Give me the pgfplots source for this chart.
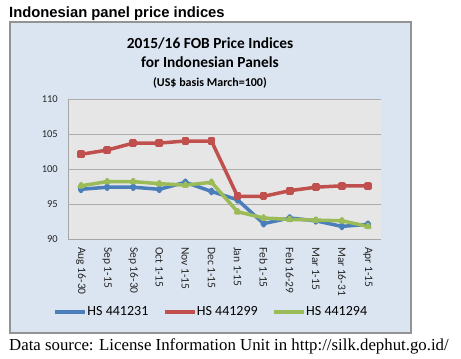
\documentclass[border=0pt]{standalone}
\usepackage{pgfplots}
\pgfplotsset{compat=1.18}
\usepackage{fontspec}
\setmainfont{Carlito}
\newfontfamily\headfont{Liberation Sans}
\newfontfamily\capfont{Liberation Serif}
\definecolor{boxbg}{HTML}{DBE5F1}
\definecolor{plotbg}{HTML}{E6E6E6}
\definecolor{sblue}{HTML}{4A7EBB}
\definecolor{sred}{HTML}{C0504D}
\definecolor{sgreen}{HTML}{9BBB59}
\begin{document}
\begin{tikzpicture}[x=1bp,y=1bp]
\path (0,0) rectangle (461,358);
\node[anchor=base west, inner sep=0, font=\headfont\bfseries\fontsize{14.8bp}{16bp}\selectfont] at (9,340.7) {Indonesian panel price indices};
\draw[fill=boxbg, draw=gray!85, line width=1.5bp] (9.75,25) rectangle (411,336);
\node[anchor=base, inner sep=0, font=\bfseries\fontsize{15.4bp}{17bp}\selectfont] at (210,309.3) {2015/16 FOB Price Indices};
\node[anchor=base, inner sep=0, font=\bfseries\fontsize{15.4bp}{17bp}\selectfont] at (210,290.3) {for Indonesian Panels};
\node[anchor=base, inner sep=0, font=\bfseries\fontsize{12bp}{14bp}\selectfont] at (210,272) {(US\$ basis March=100)};
\begin{axis}[
  at={(68bp,119bp)}, anchor=south west,
  scale only axis, width=313bp, height=140bp,
  xmin=-0.5, xmax=11.5, ymin=90, ymax=110,
  ytick={90,95,100,105,110},
  xtick={0,...,11},
  xticklabels={Aug 16-30,Sep 1-15,Sep 16-30,Oct 1-15,Nov 1-15,Dec 1-15,Jan 1-15,Feb 1-15,Feb 16-29,Mar 1-15,Mar 16-31,Apr 1-15},
  axis x line*=bottom, axis y line*=left,
  axis line style={draw=gray!70, line width=0.8bp},
  major tick length=0pt,
  ymajorgrids, grid style={draw=gray!65, line width=0.8bp},
  axis background/.style={fill=plotbg},
  /pgf/number format/assume math mode=true,
  tick label style={text=black!85, font=\fontsize{10.5bp}{12bp}\selectfont},
  xticklabel style={rotate=-90, anchor=west, inner sep=0pt, font=\fontsize{11.5bp}{13bp}\selectfont},
  yticklabel style={anchor=east, inner sep=0pt},
  xticklabel shift=8bp,
  yticklabel shift=10bp,
  legend columns=3,
  legend style={at={(0.457,-0.52)}, anchor=center, draw=none, fill=none,
    font=\fontsize{14bp}{16bp}\selectfont,
    /tikz/every odd column/.append style={column sep=-2bp},
    /tikz/every even column/.append style={column sep=12bp}},
  legend image code/.code={\draw[#1, mark=none, line width=4.5bp] (0bp,0bp) -- (30bp,0bp);},
  every axis plot/.append style={line width=3.5bp, mark size=2.1bp, line join=round},
]
\addplot[color=sblue, mark=diamond*] coordinates {(0,97.1) (1,97.4) (2,97.4) (3,97.1) (4,98.1) (5,96.8) (6,95.6) (7,92.2) (8,93.0) (9,92.6) (10,91.8) (11,92.1)};
\addlegendentry{HS 441231}
\addplot[color=sred, mark=square*] coordinates {(0,102.1) (1,102.7) (2,103.7) (3,103.7) (4,104.0) (5,104.0) (6,96.1) (7,96.1) (8,96.9) (9,97.4) (10,97.6) (11,97.6)};
\addlegendentry{HS 441299}
\addplot[color=sgreen, mark=triangle*] coordinates {(0,97.6) (1,98.2) (2,98.2) (3,97.9) (4,97.7) (5,98.1) (6,93.9) (7,93.0) (8,92.8) (9,92.7) (10,92.6) (11,91.8)};
\addlegendentry{HS 441294}
\end{axis}
\node[anchor=base west, inner sep=0, font=\capfont\fontsize{16.8bp}{18bp}\selectfont] at (9,8) {Data source: License Information Unit in http://silk.dephut.go.id/};
\end{tikzpicture}
\end{document}
